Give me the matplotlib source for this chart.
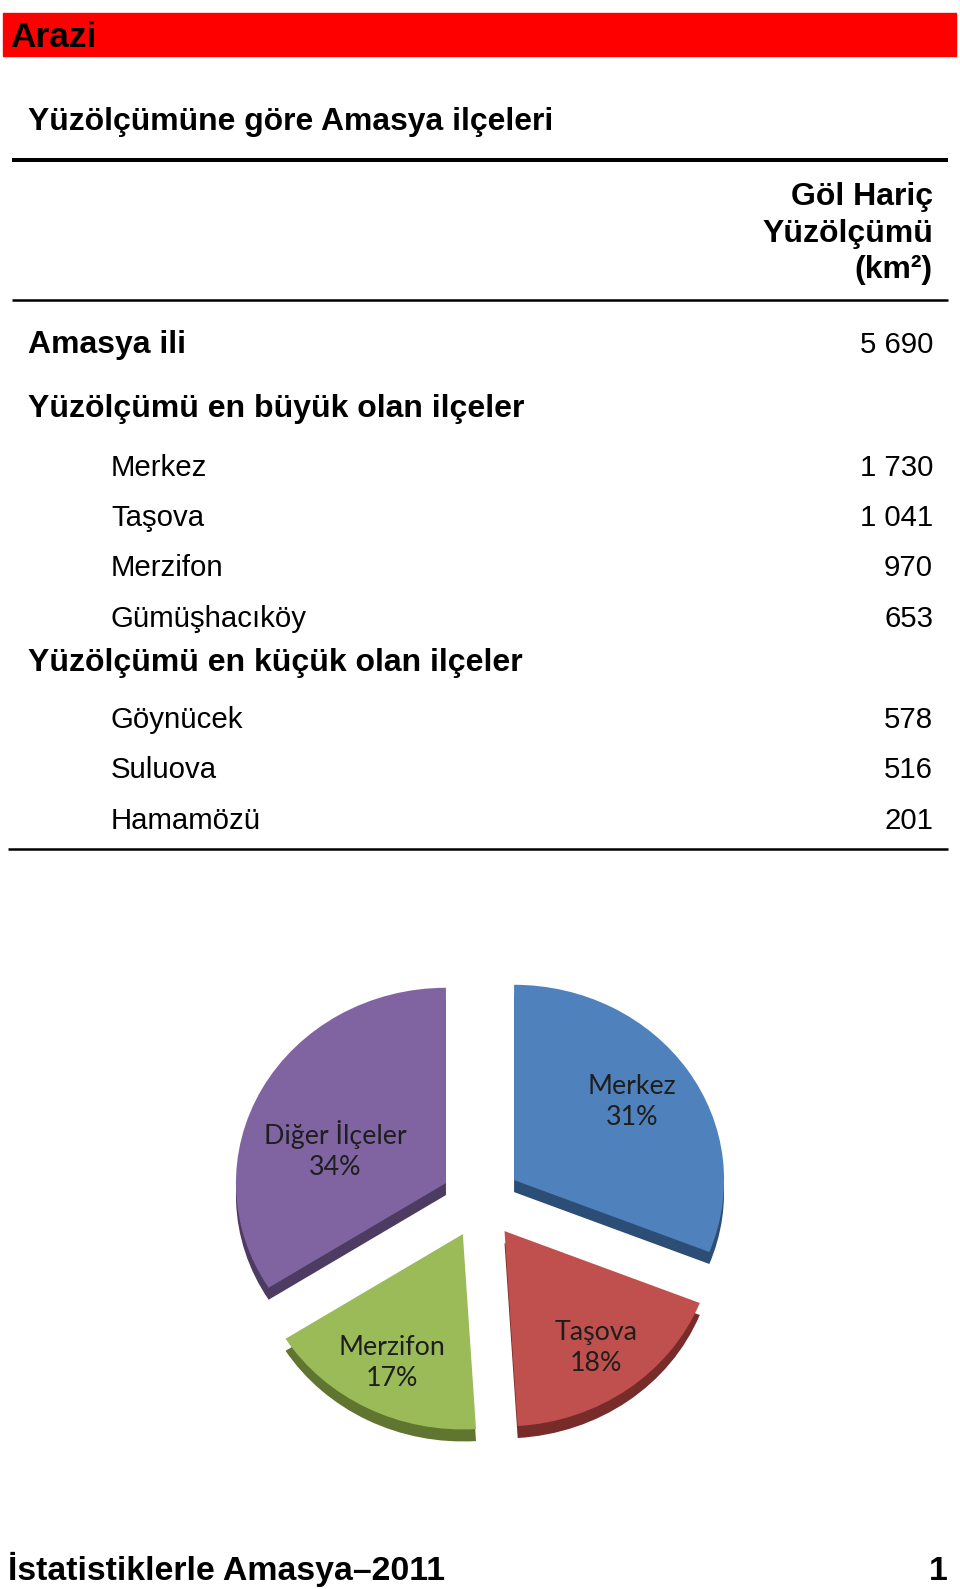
import matplotlib
matplotlib.use("Agg")
import matplotlib.pyplot as plt
from matplotlib.patches import Rectangle
import numpy as np

# ---------------- data ----------------
page_title = "Arazi"
table_title = "Yüzölçümüne göre Amasya ilçeleri"
col_header = ["Göl Hariç", "Yüzölçümü", "(km²)"]
province = "Amasya ili"
province_area = 5690
largest_header = "Yüzölçümü en büyük olan ilçeler"
largest_names = ["Merkez", "Taşova", "Merzifon", "Gümüşhacıköy"]
largest_areas = [1730, 1041, 970, 653]
smallest_header = "Yüzölçümü en küçük olan ilçeler"
smallest_names = ["Göynücek", "Suluova", "Hamamözü"]
smallest_areas = [578, 516, 201]
pie_labels = ["Merkez", "Taşova", "Merzifon", "Diğer İlçeler"]
pie_pcts = [31, 18, 17, 34]
pie_colors = ["#4F81BD", "#C0504D", "#9BBB59", "#8064A2"]
pie_side_colors = ["#2C4D75", "#772C2A", "#5F7530", "#4D3B62"]
footer_left = "İstatistiklerle Amasya–2011"
footer_right = "1"

W, H = 960, 1589
plt.rcParams["font.family"] = ["Liberation Sans", "DejaVu Sans"]
fig = plt.figure(figsize=(W / 100, H / 100), dpi=100)
fig.patch.set_facecolor("white")

ax = fig.add_axes([0, 0, 1, 1])
ax.set_xlim(0, W)
ax.set_ylim(H, 0)
ax.axis("off")

renderer = fig.canvas.get_renderer()


def fmt(v):
    return f"{v:,}".replace(",", " ")


def size_for(s, target, **kw):
    t = ax.text(0, 0, s, fontsize=20, **kw)
    w = t.get_window_extent(renderer).width
    t.remove()
    return 20 * target / w


def px(lw):
    return lw * 72 / 100


# header bar
ax.add_patch(Rectangle((3, 13), 953, 43, color="#FF0000", zorder=1))
fs_arazi = size_for(page_title, 86, fontweight="bold")
ax.text(10, 47, page_title, fontsize=fs_arazi, fontweight="bold", color="black",
        va="baseline", ha="left", zorder=2)

# fonts for table
fs_bold = size_for(largest_header, 495, fontweight="bold")
fs_title = size_for(table_title, 524, fontweight="bold")
fs_reg = size_for("Gümüşhacıköy", 196)

ax.text(28, 130, table_title, fontsize=fs_title, fontweight="bold", va="baseline", ha="left")
ax.plot([12, 948], [160, 160], color="black", lw=px(4), solid_capstyle="butt")

for s, yb in zip(col_header, [205, 242, 278]):
    ax.text(933, yb, s, fontsize=fs_bold, fontweight="bold", va="baseline", ha="right")
ax.plot([12, 948], [300, 300], color="black", lw=px(2.5), solid_capstyle="butt")

ax.text(28, 353, province, fontsize=fs_bold, fontweight="bold", va="baseline", ha="left")
ax.text(933, 353, fmt(province_area), fontsize=fs_reg, va="baseline", ha="right")

ax.text(28, 417, largest_header, fontsize=fs_bold, fontweight="bold", va="baseline", ha="left")
for i, (n, v) in enumerate(zip(largest_names, largest_areas)):
    yb = 476 + i * 50.2
    ax.text(111, yb, n, fontsize=fs_reg, va="baseline", ha="left")
    ax.text(933, yb, fmt(v), fontsize=fs_reg, va="baseline", ha="right")

ax.text(28, 671, smallest_header, fontsize=fs_bold, fontweight="bold", va="baseline", ha="left")
for i, (n, v) in enumerate(zip(smallest_names, smallest_areas)):
    yb = 728 + i * 50.5
    ax.text(111, yb, n, fontsize=fs_reg, va="baseline", ha="left")
    ax.text(933, yb, fmt(v), fontsize=fs_reg, va="baseline", ha="right")

ax.plot([8, 948], [849, 849], color="black", lw=px(2.5), solid_capstyle="butt")

# footer
fs_foot = size_for(footer_left, 436, fontweight="bold")
ax.text(8, 1580, footer_left, fontsize=fs_foot, fontweight="bold", va="baseline", ha="left")
ax.text(948, 1580, footer_right, fontsize=fs_foot, fontweight="bold", va="baseline", ha="right")

# ---------------- pie ----------------
# pie axes: 1 data unit = 1 px horizontally, SQ px vertically (slight tilt)
SQ = 0.93
pax = fig.add_axes([0, 0, 1, 1])
pax.patch.set_alpha(0)
cx, cy = 481, (H - 1201) / SQ
R = 210
expl = [40] * len(pie_pcts)
depth = 12 / SQ

# side / depth layer
pax.pie(pie_pcts, colors=pie_side_colors, startangle=90, counterclock=False,
        center=(cx, cy - depth), radius=R, explode=expl,
        wedgeprops=dict(linewidth=0))
wedges, _ = pax.pie(pie_pcts, colors=pie_colors, startangle=90, counterclock=False,
                    center=(cx, cy), radius=R, explode=expl,
                    wedgeprops=dict(linewidth=0))

lab_font = ["Lato", "DejaVu Sans"]
fs_lab = size_for("Diğer İlçeler", 143, family=lab_font)
for w, name, p in zip(wedges, pie_labels, pie_pcts):
    th = np.deg2rad((w.theta1 + w.theta2) / 2)
    x0, y0 = w.center
    wide = np.cos(th) < -0.8          # large left wedge: label sits lower/inner
    if wide:
        d, dy = 0.60 * R, -0.12 * R
    elif np.sin(th) > 0:
        d, dy = 0.68 * R, 0.02 * R
    else:
        d, dy = 0.74 * R, 0
    pax.text(x0 + d * np.cos(th), y0 + d * np.sin(th) + dy,
             f"{name}\n{p}%",
             ha="center", va="center", fontsize=fs_lab, family=lab_font,
             color="#1e1e1e", linespacing=1.3)

pax.set_xlim(0, W)
pax.set_ylim(0, H / SQ)
pax.set_aspect("auto")
pax.axis("off")

fig.savefig("out.png", dpi=100, facecolor="white")
